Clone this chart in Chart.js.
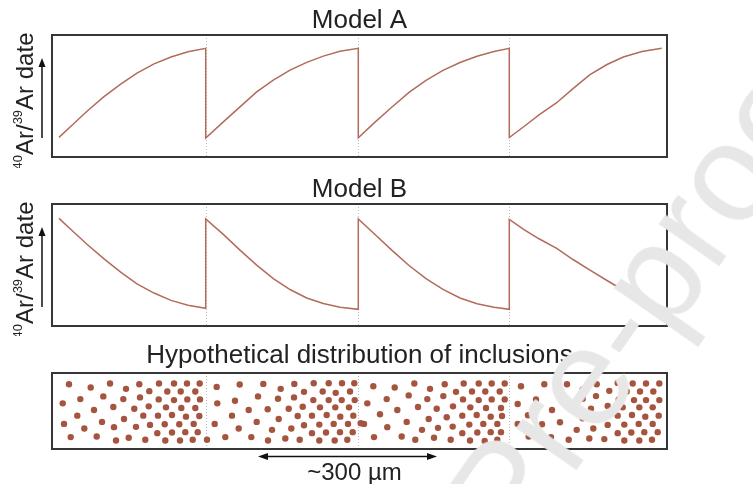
<!DOCTYPE html>
<html>
<head>
<meta charset="utf-8">
<script src="https://cdn.jsdelivr.net/npm/chart.js@4/dist/chart.umd.min.js"></script>
<style>
  html, body { margin: 0; padding: 0; background: #fff; }
  body { width: 753px; height: 484px; position: relative; overflow: hidden; }
  canvas { position: absolute; left: 0; }
  #wm {
    position: absolute; left: 0; top: 0;
    font: 140px "Liberation Sans", Arial, sans-serif; line-height: 1;
    color: #e7e7e7; white-space: nowrap; pointer-events: none;
    transform-origin: 0 0;
    transform: translate(135px, 895px) rotate(-55deg);
  }
</style>
</head>
<body>
<canvas id="modelA" width="753" height="168" style="top:0"></canvas>
<canvas id="modelB" width="753" height="168" style="top:168px"></canvas>
<canvas id="inclusions" width="753" height="148" style="top:336px"></canvas>
<div id="wm">Journal Pre-proof</div>
<script>
// distance along the grain (arbitrary units, 0 = left edge, 615 = right edge)
const dividers = [153.7, 306.3, 457.3];

// Model A: date rises away from each fast pathway
const modelAx = [7, 20, 35, 52, 69, 85, 102, 119, 136, 153.7,
  153.7, 171.3, 188, 204.7, 221.3, 238, 254.7, 271.3, 288, 306.3,
  306.3, 323, 340, 357, 374, 391, 408, 425, 442, 457.3,
  457.3, 472, 487, 504.7, 521, 538, 555, 571.3, 590, 609.7];
const modelAy = [16.1, 26, 37.5, 49.5, 60, 68.8, 76.3, 82, 86.3, 89.1,
  15.6, 28.8, 41.1, 53.4, 63, 71.2, 77.6, 82.7, 86.6, 89.1,
  15.8, 28.6, 41, 53, 62.8, 71, 77.5, 82.6, 86.5, 89.1,
  15.9, 25, 34.5, 44.5, 56, 67.5, 75.8, 82, 86.5, 89.1];

// Model B: date falls away from each pathway
const modelBx = [7, 20, 35, 52, 69, 85, 102, 119, 136, 153.7,
  153.7, 171.3, 188, 204.7, 221.3, 238, 254.7, 271.3, 288, 306.3,
  306.3, 323, 340, 357, 374, 391, 408, 425, 442, 457.3,
  457.3, 472, 487, 504.7, 521, 538, 555, 571.3, 591.3, 609.7];
const modelBy = [88.2, 78.3, 67, 55, 44, 34.5, 27, 21, 17, 14.5,
  87.7, 75.1, 62.2, 49.9, 38.9, 29.9, 23, 18.4, 15.4, 13.7,
  87.7, 75, 62, 49.6, 38.8, 30, 23, 18.3, 15.4, 13.7,
  87.4, 79, 71.5, 63.6, 54.5, 45.8, 37.3, 29.3, 21.1, 14.3];

// inclusion positions (x along grain, y across grain)
const inclX = [
  17, 38.7, 58, 74, 87.3, 107, 122, 135, 147.7, 97.3, 115.3, 128.7, 143.3,
  51.3, 28.3, 71.3, 88, 106.7, 122, 135.3, 148, 10.7,
  61.3, 42, 82.3, 96.7, 114, 129.3, 143.3, 25.3, 72, 91.3, 106, 120, 134, 147.3,
  12, 50, 32.3, 62, 84, 98, 112.7, 127.3, 141.7,
  18.7, 44.7, 76.7, 105.3, 120, 133.3, 145.7, 64, 93.3, 113.3, 128, 140.7, 155,
  164.7, 187.7, 211.3, 228.7, 242.3, 261.7, 276.7, 290, 302.3, 252, 270.7, 283.7, 298,
  206, 226, 242, 261.3, 276.7, 289.7, 302.7, 165.3, 183,
  196.7, 215.7, 236.7, 250.7, 268, 283.3, 297, 180, 226.7, 245.7, 260, 274.7, 288.3, 301.3,
  162.7, 204.7, 186.7, 220, 239.3, 252, 267.3, 281.7, 296, 308.7,
  173.3, 199.3, 216, 233.3, 247.7, 260, 274, 288, 300.7, 267.3, 282.7, 295.3,
  321.3, 342.7, 362.3, 378, 392.7, 411.7, 426.7, 439.7, 452.7, 404, 420, 433.3, 447.7,
  356.7, 334.7, 375.3, 391.3, 411, 426.7, 439.7, 452.7, 315.3,
  366, 345.3, 384.7, 401, 418.3, 434, 449, 328, 376.7, 394.7, 410.3, 424.7, 438.7, 450,
  312, 354.7, 335.3, 370, 386, 400.7, 417.3, 431.3, 445.3,
  322, 349.7, 363.3, 382, 398.7, 410.3, 425.3, 438.7, 449, 418, 432.7, 445.3,
  469, 492.3, 515, 530.7, 544.7, 565.7, 580.7, 594, 607.3, 557.3, 574.7, 588, 601.3,
  510.7, 530.7, 544, 566.7, 582, 594, 607.3, 484, 465.7,
  500, 519, 539, 555.7, 570.7, 587.3, 600.7, 476, 530.7, 550.7, 565.7, 580, 593.3, 606.7,
  465.7, 490, 508, 524.7, 541.3, 555.7, 572.3, 586.7, 600.7,
  476.7, 499, 516.7, 537.3, 552.3, 565.7, 579.3, 592.3, 605.7, 572.3, 587.3, 600
];
const inclY = [
  65.3, 62, 66, 60.6, 65.3, 66, 66, 66, 66, 58.3, 58, 58, 58,
  53, 50.3, 50.3, 52, 50, 49.3, 50, 50, 46,
  42.3, 39.3, 40.6, 43, 42, 41.3, 41.3, 33.6, 30.3, 33.6, 33.6, 34.3, 32.6, 33.3,
  25.3, 27.3, 20.6, 22, 22.3, 24.3, 25, 25, 25.3,
  12, 12.6, 11.3, 16, 16.6, 17, 17, 8.6, 9.3, 8.6, 8.6, 9.3, 9.3,
  62.6, 65, 65.6, 60.6, 65.6, 66.3, 66.3, 66.3, 66.3, 57.6, 58, 56.6, 58,
  53, 50.6, 52, 49.3, 49.3, 49.3, 49.3, 46, 48.6,
  39.3, 40, 40.6, 42.6, 42, 42, 42, 33.6, 30.3, 33.3, 33.6, 34.3, 32.6, 33.6,
  25.3, 27.3, 20.6, 19.3, 20.6, 24, 24.6, 25.3, 25.3, 26,
  12, 12, 8.6, 10.6, 9.3, 16, 16.6, 17, 17, 8.6, 8.6, 9.3,
  63.3, 62, 66, 60.6, 65.3, 66, 66, 66, 66, 57.6, 58, 58, 58,
  54, 50.3, 50.3, 53.3, 50, 49.3, 50, 50, 46,
  42.3, 39.3, 40.6, 43, 42, 41.3, 41.3, 35, 30.3, 32, 33.6, 34.3, 32.6, 33.3,
  25.3, 27.3, 22, 19.3, 21.3, 22.6, 24.6, 25.3, 25.3,
  12, 12.6, 9.3, 11.3, 9.3, 16, 16.6, 17, 17, 8.6, 8, 9.3,
  63.3, 65.3, 65.3, 60, 65.3, 66.6, 66, 66, 66, 58.6, 58, 58, 58,
  53.3, 50.6, 53.3, 50, 49.3, 49.3, 49.3, 50, 45.3,
  39.3, 40.6, 40.6, 43.3, 42, 42, 42, 34, 31, 33.6, 33.6, 34.3, 32.6, 33.6,
  25.3, 25, 27, 19.3, 20.6, 24.3, 24.6, 25.3, 25.3,
  12.6, 12, 9.3, 10.6, 10, 16, 16.6, 17, 17, 8.6, 8.6, 9.3
];

const titles = ['Model A', 'Model B', 'Hypothetical distribution of inclusions'];
const scaleBar = [206, 385];
const scaleBarLabel = '~300 µm';

const FONT = '"Liberation Sans", Arial, sans-serif';
const lineColor = '#b26b5c';
const dotColor = '#a5553f';

function pts(xs, ys) { return xs.map((x, i) => ({ x: x, y: ys[i] })); }

const decor = {
  id: 'decor',
  beforeDatasetsDraw(chart) {
    const { ctx, chartArea: a, scales: { x } } = chart;
    ctx.save();
    ctx.strokeStyle = '#b9b9b9';
    ctx.lineWidth = 1;
    ctx.setLineDash([1, 2]);
    dividers.forEach(v => {
      const px = Math.round(x.getPixelForValue(v)) + 0.5;
      ctx.beginPath();
      ctx.moveTo(px, a.top);
      ctx.lineTo(px, a.bottom);
      ctx.stroke();
    });
    ctx.restore();
  },
  afterDatasetsDraw(chart, args, o) {
    const { ctx, chartArea: a, scales: { x } } = chart;
    ctx.save();
    // frame
    ctx.strokeStyle = '#363636';
    ctx.lineWidth = 2;
    ctx.strokeRect(a.left, a.top, a.right - a.left, a.bottom - a.top);

    // title
    ctx.fillStyle = '#222';
    ctx.font = '26px ' + FONT;
    ctx.textAlign = 'center';
    ctx.textBaseline = 'alphabetic';
    ctx.fillText(o.title, (a.left + a.right) / 2, a.top - o.titleGap);

    if (o.yLabel) {
      // 40Ar/39Ar date, rotated, with an upward arrow
      const parts = [['40', true], ['Ar/', false], ['39', true], ['Ar date', false]];
      ctx.save();
      ctx.translate(33, (a.top + a.bottom) / 2 + 5);
      ctx.rotate(-Math.PI / 2);
      ctx.textAlign = 'left';
      let w = 0;
      parts.forEach(p => { ctx.font = (p[1] ? '13px ' : '24px ') + FONT; w += ctx.measureText(p[0]).width; });
      let cx = -w / 2;
      parts.forEach(p => {
        ctx.font = (p[1] ? '13px ' : '24px ') + FONT;
        ctx.fillText(p[0], cx, p[1] ? -11 : 0);
        cx += ctx.measureText(p[0]).width;
      });
      ctx.restore();

      const ax = 42, y0 = a.bottom - 19, y1 = a.top + 23;
      ctx.strokeStyle = '#111';
      ctx.fillStyle = '#111';
      ctx.lineWidth = 1.5;
      ctx.beginPath();
      ctx.moveTo(ax, y0);
      ctx.lineTo(ax, y1 + 6);
      ctx.stroke();
      ctx.beginPath();
      ctx.moveTo(ax, y1);
      ctx.lineTo(ax - 3.5, y1 + 9);
      ctx.lineTo(ax + 3.5, y1 + 9);
      ctx.closePath();
      ctx.fill();
    }

    if (o.scaleBar) {
      const x0 = x.getPixelForValue(scaleBar[0]);
      const x1 = x.getPixelForValue(scaleBar[1]);
      const yy = a.bottom + 7.5;
      ctx.strokeStyle = '#111';
      ctx.fillStyle = '#111';
      ctx.lineWidth = 1.5;
      ctx.beginPath();
      ctx.moveTo(x0 + 6, yy);
      ctx.lineTo(x1 - 6, yy);
      ctx.stroke();
      [[x0, 1], [x1, -1]].forEach(([px, d]) => {
        ctx.beginPath();
        ctx.moveTo(px, yy);
        ctx.lineTo(px + d * 10, yy - 3.5);
        ctx.lineTo(px + d * 10, yy + 3.5);
        ctx.closePath();
        ctx.fill();
      });
      ctx.fillStyle = '#222';
      ctx.font = '24px ' + FONT;
      ctx.textAlign = 'center';
      ctx.fillText(scaleBarLabel, (x0 + x1) / 2 + 7, a.bottom + 31);
    }
    ctx.restore();
  }
};

function baseOptions(pad, yMax, deco) {
  return {
    responsive: false,
    animation: false,
    events: [],
    layout: { padding: pad },
    plugins: { legend: { display: false }, tooltip: { enabled: false }, decor: deco },
    scales: {
      x: { type: 'linear', min: 0, max: 615, display: false },
      y: { type: 'linear', min: 0, max: yMax, display: false }
    }
  };
}

new Chart(document.getElementById('modelA'), {
  type: 'line',
  data: { datasets: [{ data: pts(modelAx, modelAy), borderColor: lineColor, borderWidth: 1.5, pointRadius: 0, tension: 0 }] },
  options: baseOptions({ left: 52, right: 86, top: 35, bottom: 11 }, 100, { title: titles[0], titleGap: 7, yLabel: true }),
  plugins: [decor]
});

new Chart(document.getElementById('modelB'), {
  type: 'line',
  data: { datasets: [{ data: pts(modelBx, modelBy), borderColor: lineColor, borderWidth: 1.5, pointRadius: 0, tension: 0 }] },
  options: baseOptions({ left: 52, right: 86, top: 36, bottom: 10 }, 100, { title: titles[1], titleGap: 7, yLabel: true }),
  plugins: [decor]
});

new Chart(document.getElementById('inclusions'), {
  type: 'scatter',
  data: { datasets: [{ data: pts(inclX, inclY), backgroundColor: dotColor, borderWidth: 0, pointRadius: 3.2 }] },
  options: baseOptions({ left: 52, right: 86, top: 37, bottom: 35 }, 76.6, { title: titles[2], titleGap: 10, scaleBar: true }),
  plugins: [decor]
});
</script>
</body>
</html>
